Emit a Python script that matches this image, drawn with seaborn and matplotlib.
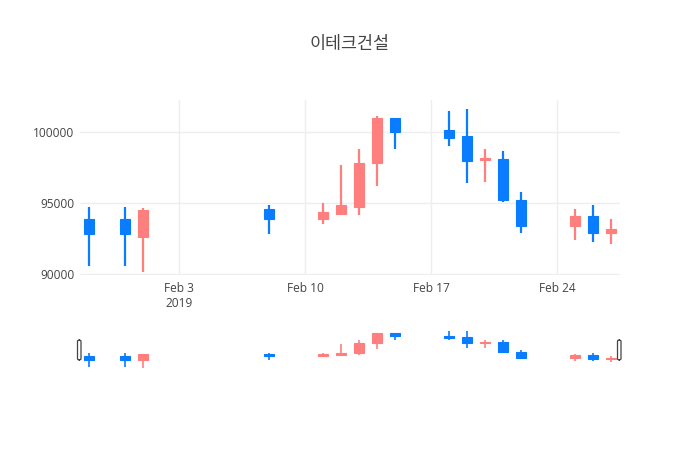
import pandas as pd
import seaborn as sns
import matplotlib.pyplot as plt
import matplotlib.dates as mdates
from matplotlib.patches import FancyBboxPatch

# daily prices
dates = ['2019-01-29', '2019-01-31', '2019-02-01', '2019-02-08', '2019-02-11',
         '2019-02-12', '2019-02-13', '2019-02-14', '2019-02-15', '2019-02-18',
         '2019-02-19', '2019-02-20', '2019-02-21', '2019-02-22', '2019-02-25',
         '2019-02-26', '2019-02-27']
opens = [93900, 93900, 92650, 94600, 93900, 94250, 94750, 97800, 101000, 100150,
         99700, 98000, 98100, 95200, 93400, 94100, 92900]
highs = [94700, 94700, 94650, 94900, 95000, 97700, 98800, 101100, 101000, 101500,
         101600, 98800, 98700, 95800, 94600, 94900, 93900]
lows = [90550, 90550, 90150, 92800, 93550, 94150, 94200, 96200, 98800, 99000,
        96450, 96500, 95100, 92900, 92400, 92300, 92150]
closes = [92850, 92850, 94550, 93900, 94400, 94850, 97850, 101000, 100000, 99550,
          97950, 98200, 95200, 93400, 94100, 92900, 93200]

title = '이테크건설'
ytick_values = [90000, 95000, 100000]
xtick_dates = ['2019-02-03', '2019-02-10', '2019-02-17', '2019-02-24']
xtick_labels = ['Feb 3\n2019', 'Feb 10', 'Feb 17', 'Feb 24']

UP = '#ff7f7f'
DOWN = '#0a7cff'

df = pd.DataFrame({'date': pd.to_datetime(dates), 'open': opens, 'high': highs,
                   'low': lows, 'close': closes})
df['x'] = mdates.date2num(df['date'])
df['color'] = [UP if c >= o else DOWN for o, c in zip(df['open'], df['close'])]
df['bottom'] = df[['open', 'close']].min(axis=1)
df['height'] = (df['close'] - df['open']).abs()

sns.set_theme(style='white')
plt.rcParams['font.family'] = ['Open Sans', 'Noto Sans CJK KR', 'DejaVu Sans']


def draw_candles(ax, wick_lw, min_body):
    ax.vlines(df['x'], df['low'], df['high'], colors=df['color'], linewidth=wick_lw, zorder=2)
    heights = df['height'].clip(lower=min_body)
    ax.bar(df['x'], heights, bottom=df['bottom'], width=0.6, color=df['color'],
           edgecolor=df['color'], linewidth=0.8, zorder=3)


fig = plt.figure(figsize=(7, 4.5), dpi=100)

x0 = mdates.date2num(pd.Timestamp('2019-01-28 12:00'))
x1 = mdates.date2num(pd.Timestamp('2019-02-27 12:00'))

# main candlestick panel
ax = fig.add_axes([80 / 700, 175 / 450, 540 / 700, 175 / 450])
draw_candles(ax, 1.6, 120)
ax.set_xlim(x0, x1)
ax.set_ylim(89950, 102250)
ax.set_yticks(ytick_values)
ax.set_yticklabels([str(v) for v in ytick_values])
ax.set_xticks(mdates.date2num(pd.to_datetime(xtick_dates)))
ax.set_xticklabels(xtick_labels, linespacing=1.25)
ax.grid(True, color='#eeeeee', linewidth=1)
ax.set_axisbelow(True)
for s in ax.spines.values():
    s.set_visible(False)
ax.tick_params(axis='both', length=0, labelsize=8.6, colors='#444444', pad=5)
ax.tick_params(axis='y', pad=4)

# range slider panel
sl = fig.add_axes([80 / 700, 80 / 450, 540 / 700, 40 / 450])
draw_candles(sl, 1.2, 60)
sl.set_xlim(x0, x1)
sl.set_ylim(89620, 101930)
sl.set_xticks([])
sl.set_yticks([])
for s in sl.spines.values():
    s.set_visible(False)

# slider handles
for hx in (77.5, 617.5):
    fig.add_artist(FancyBboxPatch((hx / 700, 90 / 450), 3.5 / 700, 20 / 450,
                                  boxstyle='round,pad=0,rounding_size=0.003',
                                  transform=fig.transFigure, facecolor='white',
                                  edgecolor='#444444', linewidth=0.9))

fig.text(0.5, 1 - 44 / 450, title, ha='center', va='center', fontsize=12.5,
         color='#444444', family=['Noto Sans CJK KR', 'DejaVu Sans'])

fig.savefig('out.png', dpi=100, facecolor='white')
